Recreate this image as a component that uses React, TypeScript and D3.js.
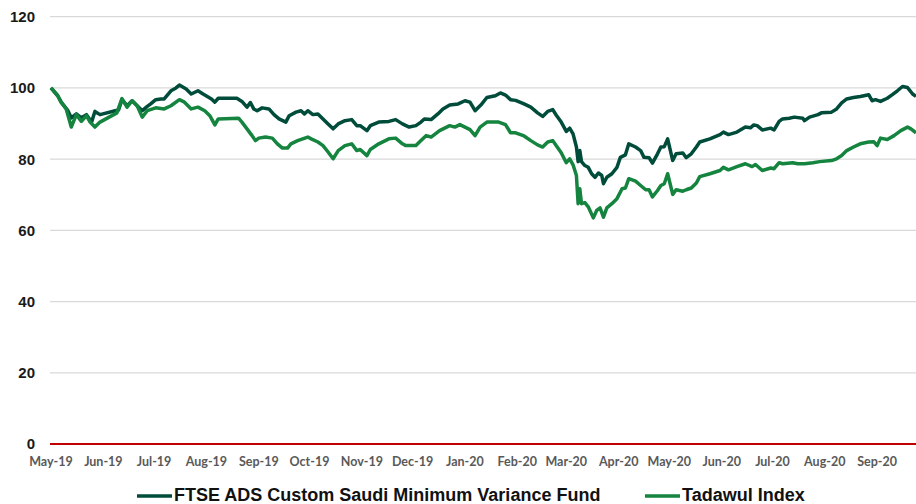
import React from 'react';
import * as d3 from 'd3';

// fund index (rebased to 100)
const fundDates = [
  '2019-05-01', '2019-05-05', '2019-05-07', '2019-05-11', '2019-05-13', '2019-05-16', '2019-05-19', '2019-05-22',
  '2019-05-25', '2019-05-27', '2019-05-30', '2019-06-08', '2019-06-10', '2019-06-12', '2019-06-15', '2019-06-18',
  '2019-06-21', '2019-06-24', '2019-06-27', '2019-06-29', '2019-07-02', '2019-07-05', '2019-07-07', '2019-07-11',
  '2019-07-14', '2019-07-16', '2019-07-20', '2019-07-23', '2019-07-27', '2019-07-30', '2019-08-04', '2019-08-06',
  '2019-08-08', '2019-08-19', '2019-08-22', '2019-08-25', '2019-08-27', '2019-08-29', '2019-08-31', '2019-09-03',
  '2019-09-07', '2019-09-10', '2019-09-13', '2019-09-17', '2019-09-19', '2019-09-23', '2019-09-26', '2019-09-28',
  '2019-09-30', '2019-10-03', '2019-10-06', '2019-10-09', '2019-10-12', '2019-10-15', '2019-10-18', '2019-10-22',
  '2019-10-26', '2019-10-29', '2019-10-31', '2019-11-04', '2019-11-06', '2019-11-11', '2019-11-17', '2019-11-21',
  '2019-11-25', '2019-11-29', '2019-12-03', '2019-12-06', '2019-12-08', '2019-12-12', '2019-12-16', '2019-12-19',
  '2019-12-23', '2019-12-28', '2020-01-01', '2020-01-04', '2020-01-07', '2020-01-11', '2020-01-14', '2020-01-19',
  '2020-01-22', '2020-01-25', '2020-01-28', '2020-01-31', '2020-02-05', '2020-02-09', '2020-02-13', '2020-02-16',
  '2020-02-19', '2020-02-22', '2020-02-24', '2020-02-27', '2020-03-01', '2020-03-03', '2020-03-05', '2020-03-07',
  '2020-03-08', '2020-03-09', '2020-03-10', '2020-03-12', '2020-03-14', '2020-03-16', '2020-03-18', '2020-03-20',
  '2020-03-22', '2020-03-23', '2020-03-25', '2020-03-28', '2020-03-31', '2020-04-02', '2020-04-05', '2020-04-07',
  '2020-04-11', '2020-04-14', '2020-04-16', '2020-04-19', '2020-04-21', '2020-04-24', '2020-04-26', '2020-04-28',
  '2020-04-30', '2020-05-03', '2020-05-05', '2020-05-09', '2020-05-11', '2020-05-14', '2020-05-17', '2020-05-19',
  '2020-05-25', '2020-05-31', '2020-06-02', '2020-06-05', '2020-06-10', '2020-06-15', '2020-06-18', '2020-06-20',
  '2020-06-22', '2020-06-25', '2020-06-30', '2020-07-02', '2020-07-05', '2020-07-07', '2020-07-11', '2020-07-14',
  '2020-07-19', '2020-07-20', '2020-07-23', '2020-07-28', '2020-07-30', '2020-08-05', '2020-08-08', '2020-08-11',
  '2020-08-14', '2020-08-18', '2020-08-22', '2020-08-27', '2020-08-29', '2020-08-31', '2020-09-03', '2020-09-07',
  '2020-09-10', '2020-09-13', '2020-09-16', '2020-09-19', '2020-09-22', '2020-09-24',
];
const fundValues = [
  100, 97.8, 96, 93.6, 91.6, 92.7, 91.6, 92.5,
  90.4, 93.4, 92.5, 93.6, 93.8, 96.7, 95, 96.4,
  95, 93.6, 94.8, 95.5, 96.7, 96.9, 96.9, 99.2,
  100, 100.8, 99.7, 98.3, 99.2, 98.3, 96.9, 96,
  97.1, 97.1, 96.2, 94.6, 95.9, 94.1, 93.6, 94.4,
  94.1, 92.5, 91.3, 90.4, 92.2, 93.2, 93.6, 92.7,
  93.6, 92.5, 92.7, 91.3, 89.9, 88.5, 89.9, 90.8,
  91.1, 89.4, 89.4, 88, 89.4, 90.4, 90.6, 91.1,
  89.9, 89, 89.4, 90.4, 91.3, 91.1, 92.7, 94.1,
  95.2, 95.5, 96.4, 96, 93.6, 95.5, 97.3, 97.8,
  98.6, 98, 96.7, 96.5, 95.5, 94.6, 93, 92,
  93.4, 93.9, 92.4, 90.4, 87.8, 88.7, 87.1, 83.4,
  79.3, 82.4, 79.3, 78.2, 77.7, 75.9, 74.9, 76.1,
  75.4, 73.1, 74.9, 75.9, 77.7, 80.5, 81.2, 84.3,
  83.4, 82.4, 80.5, 80.4, 78.9, 81.5, 83.4, 83.5,
  85.7, 79.6, 81.5, 81.7, 80.4, 81.5, 83.4, 84.8,
  85.7, 86.9, 87.6, 86.9, 87.6, 89, 88.8, 89.6,
  89.4, 88.2, 88.7, 88.2, 90.6, 91.3, 91.5, 91.8,
  91.5, 90.8, 91.8, 92.5, 93, 93.2, 94.1, 95.8,
  96.9, 97.3, 97.6, 98.1, 96.4, 96.7, 96.2, 97.1,
  98.1, 99.2, 100.4, 100.1, 98.3, 97.6,
];

// Tadawul index (rebased to 100)
const tadawulDates = [
  '2019-05-01', '2019-05-05', '2019-05-07', '2019-05-10', '2019-05-13', '2019-05-16', '2019-05-19', '2019-05-22',
  '2019-05-24', '2019-05-27', '2019-05-30', '2019-06-09', '2019-06-12', '2019-06-15', '2019-06-18', '2019-06-21',
  '2019-06-24', '2019-06-27', '2019-07-02', '2019-07-07', '2019-07-11', '2019-07-16', '2019-07-19', '2019-07-23',
  '2019-07-27', '2019-07-31', '2019-08-03', '2019-08-06', '2019-08-08', '2019-08-20', '2019-08-22', '2019-08-25',
  '2019-08-28', '2019-08-30', '2019-09-01', '2019-09-05', '2019-09-09', '2019-09-12', '2019-09-15', '2019-09-18',
  '2019-09-20', '2019-09-24', '2019-09-30', '2019-10-02', '2019-10-06', '2019-10-09', '2019-10-12', '2019-10-15',
  '2019-10-18', '2019-10-22', '2019-10-26', '2019-10-29', '2019-10-31', '2019-11-04', '2019-11-06', '2019-11-11',
  '2019-11-17', '2019-11-21', '2019-11-25', '2019-11-27', '2019-12-03', '2019-12-06', '2019-12-09', '2019-12-12',
  '2019-12-17', '2019-12-23', '2019-12-26', '2019-12-29', '2020-01-01', '2020-01-04', '2020-01-07', '2020-01-10',
  '2020-01-14', '2020-01-21', '2020-01-25', '2020-01-28', '2020-01-31', '2020-02-05', '2020-02-09', '2020-02-13',
  '2020-02-16', '2020-02-19', '2020-02-22', '2020-02-24', '2020-02-27', '2020-03-01', '2020-03-03', '2020-03-05',
  '2020-03-07', '2020-03-08', '2020-03-09', '2020-03-10', '2020-03-12', '2020-03-14', '2020-03-17', '2020-03-19',
  '2020-03-21', '2020-03-23', '2020-03-25', '2020-03-28', '2020-03-31', '2020-04-03', '2020-04-05', '2020-04-07',
  '2020-04-11', '2020-04-14', '2020-04-17', '2020-04-19', '2020-04-21', '2020-04-24', '2020-04-26', '2020-04-28',
  '2020-04-30', '2020-05-03', '2020-05-05', '2020-05-09', '2020-05-11', '2020-05-14', '2020-05-17', '2020-05-19',
  '2020-05-25', '2020-05-31', '2020-06-02', '2020-06-05', '2020-06-10', '2020-06-15', '2020-06-19', '2020-06-21',
  '2020-06-25', '2020-06-30', '2020-07-02', '2020-07-05', '2020-07-07', '2020-07-13', '2020-07-16', '2020-07-20',
  '2020-07-25', '2020-07-29', '2020-08-05', '2020-08-08', '2020-08-11', '2020-08-14', '2020-08-18', '2020-08-22',
  '2020-08-27', '2020-08-30', '2020-09-01', '2020-09-03', '2020-09-07', '2020-09-11', '2020-09-15', '2020-09-19',
  '2020-09-21', '2020-09-24',
];
const tadawulValues = [
  100, 97.8, 96, 94.1, 89, 92.5, 90.6, 92.2,
  90.5, 89, 90.4, 93, 97, 94.6, 96.4, 95,
  91.8, 93.6, 94.4, 94.1, 95, 96.7, 96, 94.1,
  94.6, 93.6, 92.2, 89.6, 91.3, 91.5, 90.4, 88.5,
  86.6, 85.2, 85.9, 86.2, 85.9, 84.3, 83.1, 83.1,
  84.3, 85.2, 86.2, 85.7, 84.8, 83.8, 82, 80.1,
  82.4, 83.8, 84.3, 82.4, 82.7, 81, 82.7, 84.3,
  85.7, 85.9, 84.3, 83.8, 83.8, 85.2, 86.6, 86.2,
  88, 89.4, 89, 89.7, 89, 88.3, 86.6, 89,
  90.4, 90.4, 89.7, 87.4, 87.4, 86.5, 85.2, 84,
  83.4, 84.8, 85.2, 83.8, 81.8, 79, 80.1, 78.4,
  75.4, 67.5, 71.7, 67.5, 67.8, 66.6, 63.5, 65.6,
  66.3, 63.7, 66.3, 67.5, 68.9, 71.7, 71.9, 74.5,
  73.8, 72.6, 71.4, 71.4, 69.4, 71.2, 72.6, 73.1,
  75.9, 70.1, 71.4, 71, 71.4, 71.9, 73.3, 75.1,
  75.9, 76.8, 77.7, 77, 77.9, 78.7, 77.9, 78.5,
  76.8, 77.5, 77.3, 79, 78.7, 79, 78.7, 78.7,
  79, 79.3, 79.6, 80.1, 81, 82.4, 83.4, 84.3,
  84.8, 84.9, 83.8, 85.9, 85.5, 86.6, 88, 89,
  88.5, 87.4,
];

const xTickLabels = [
  'May-19', 'Jun-19', 'Jul-19', 'Aug-19', 'Sep-19', 'Oct-19', 'Nov-19', 'Dec-19', 'Jan-20',
  'Feb-20', 'Mar-20', 'Apr-20', 'May-20', 'Jun-20', 'Jul-20', 'Aug-20', 'Sep-20',
];
const yTicks = [0, 20, 40, 60, 80, 100, 120];

const seriesNames = ['FTSE ADS Custom Saudi Minimum Variance Fund', 'Tadawul Index'];
const seriesColors = ['#004c3b', '#14843f'];

const W = 916;
const H = 504;

const parseDay = d3.timeParse('%Y-%m-%d');
const parseMonth = d3.timeParse('%b-%y');

type Pt = { date: Date; value: number };

const App: React.FC = () => {
  const x = d3
    .scaleTime()
    .domain([parseDay('2019-05-01')!, parseDay('2020-09-24')!])
    .range([51, 916]);
  const y = d3.scaleLinear().domain([0, 120]).range([444, 16.7]);

  const fund: Pt[] = fundDates.map((d, i) => ({ date: parseDay(d)!, value: fundValues[i] }));
  const tadawul: Pt[] = tadawulDates.map((d, i) => ({ date: parseDay(d)!, value: tadawulValues[i] }));

  const line = d3
    .line<Pt>()
    .x((d) => x(d.date))
    .y((d) => y(d.value));

  const series = [fund, tadawul];

  return (
    <svg
      width={W}
      height={H}
      style={{ position: 'absolute', left: 0, top: 0, background: '#fff' }}
    >
      {yTicks.map((t) => (
        <g key={t}>
          {t !== 0 && (
            <line x1={50} x2={W} y1={y(t)} y2={y(t)} stroke="#d9d9d9" strokeWidth={1.3} />
          )}
          <text
            x={35}
            y={y(t)}
            dy="0.36em"
            textAnchor="end"
            fontFamily="'Liberation Sans', Arial, sans-serif"
            fontWeight="bold"
            fontSize={15}
            fill="#1a1a1a"
          >
            {t}
          </text>
        </g>
      ))}
      {xTickLabels.map((lab) => (
        <text
          key={lab}
          x={x(parseMonth(lab)!)}
          y={466}
          textAnchor="middle"
          fontFamily="Lato, 'Liberation Sans', sans-serif"
          fontWeight="bold"
          fontSize={12.5}
          fill="#595959"
        >
          {lab}
        </text>
      ))}
      {series.map((s, i) => (
        <path
          key={i}
          d={line(s) ?? ''}
          fill="none"
          stroke={seriesColors[i]}
          strokeWidth={3.5}
          strokeLinejoin="round"
        />
      ))}
      <line x1={50} x2={W} y1={y(0)} y2={y(0)} stroke="#c00000" strokeWidth={2} />
      {seriesNames.map((name, i) => {
        const lx = i === 0 ? 137 : 645;
        return (
          <g key={name}>
            <line x1={lx} x2={lx + 35} y1={496} y2={496} stroke={seriesColors[i]} strokeWidth={3.5} />
            <text
              x={lx + 37}
              y={501}
              fontFamily="'Liberation Sans', Arial, sans-serif"
              fontWeight="bold"
              fontSize={18}
              fill="#111"
            >
              {name}
            </text>
          </g>
        );
      })}
    </svg>
  );
};

export default App;
